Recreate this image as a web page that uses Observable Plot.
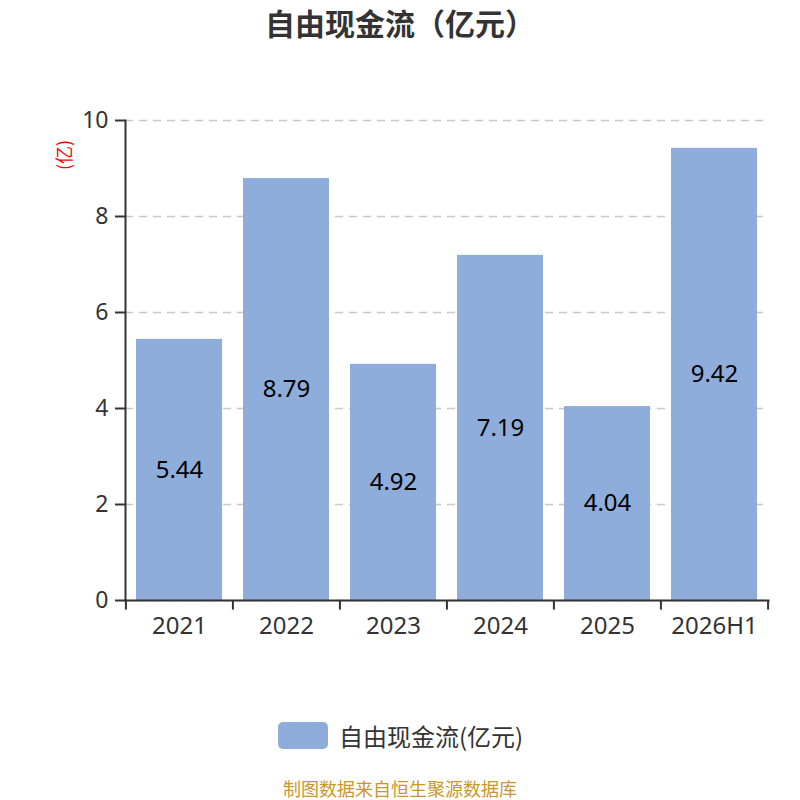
<!DOCTYPE html>
<html>
<head>
<meta charset="utf-8">
<script src="https://cdn.jsdelivr.net/npm/d3@7"></script>
<script src="https://cdn.jsdelivr.net/npm/@observablehq/plot@0.6"></script>
<style>
  body { margin: 0; background: #fff; font-family: "Noto Sans", "Noto Sans CJK SC", sans-serif; }
  #wrap { position: relative; width: 800px; height: 800px; overflow: hidden; }
  #title { position: absolute; top: 4px; left: 0; width: 800px; text-align: center; font-size: 30px; line-height: 36px; font-weight: bold; color: #333; font-family: "Noto Sans CJK SC", sans-serif; }
  #chart { position: absolute; top: 0; left: 0; }
  #ylab { position: absolute; left: 46px; top: 143px; width: 34px; text-align: center; color: red; font-size: 18px; line-height: 24px; transform: rotate(-90deg); transform-origin: center; font-family: "Noto Sans CJK SC", sans-serif; }
  #legend { position: absolute; top: 722px; left: 278px; display: flex; align-items: center; font-size: 24px; line-height: 27px; color: #333; font-family: "Noto Sans CJK SC", sans-serif; }
  #legend .sw { width: 50px; height: 27px; border-radius: 5px; background: #8eadda; margin-right: 11px; }
  #caption { position: absolute; top: 777px; left: 0; width: 800px; text-align: center; font-size: 18px; line-height: 22px; color: #c9962e; font-family: "Noto Sans CJK SC", sans-serif; }
</style>
</head>
<body>
<div id="wrap">
  <div id="title">自由现金流（亿元）</div>
  <div id="chart"></div>
  <div id="ylab">(亿)</div>
  <div id="legend"><div class="sw"></div><span>自由现金流(亿元)</span></div>
  <div id="caption">制图数据来自恒生聚源数据库</div>
</div>
<script>
const categories = ["2021", "2022", "2023", "2024", "2025", "2026H1"];
const values = [5.44, 8.79, 4.92, 7.19, 4.04, 9.42];
const yTicks = [0, 2, 4, 6, 8, 10];

const data = categories.map((c, i) => ({category: c, value: values[i]}));

const W = 800, ML = 125, MR = 32;
const half = (W - ML - MR) / categories.length / 2;
const barColor = "#8eadda";
const axisColor = "#333";

const chart = Plot.plot({
  width: W,
  height: 660,
  marginTop: 120,
  marginBottom: 60,
  marginLeft: ML,
  marginRight: MR,
  style: {fontFamily: "'Noto Sans', 'Noto Sans CJK SC', sans-serif", background: "transparent", fontSize: "23px"},
  x: {domain: categories, paddingInner: 0.2, paddingOuter: 0.1},
  y: {domain: [0, 10]},
  marks: [
    Plot.gridY(yTicks, {stroke: "#c8c8c8", strokeOpacity: 1, strokeDasharray: "8,6", strokeWidth: 1.5}),
    Plot.barY(data, {x: "category", y: "value", fill: barColor}),
    Plot.text(data, {x: "category", y: d => d.value / 2, text: d => d.value.toFixed(2), fontSize: 24, fill: "#000"}),
    Plot.axisY(yTicks, {tickSize: 10, tickPadding: 7, fontSize: 23, color: axisColor, stroke: axisColor, strokeWidth: 2, label: null, tickFormat: d => d}),
    Plot.axisX({tickSize: 0, tickPadding: 16, fontSize: 24, color: axisColor, label: null}),
    Plot.ruleX(categories, {x: d => d, dx: -half, y1: 0, y2: -0.2, stroke: axisColor, strokeWidth: 2}),
    Plot.ruleX([categories[categories.length - 1]], {x: d => d, dx: half, y1: 0, y2: -0.2, stroke: axisColor, strokeWidth: 2}),
    Plot.frame({anchor: "left", stroke: axisColor, strokeWidth: 2}),
    Plot.frame({anchor: "bottom", stroke: axisColor, strokeWidth: 2})
  ]
});
document.getElementById("chart").appendChild(chart);
</script>
</body>
</html>
